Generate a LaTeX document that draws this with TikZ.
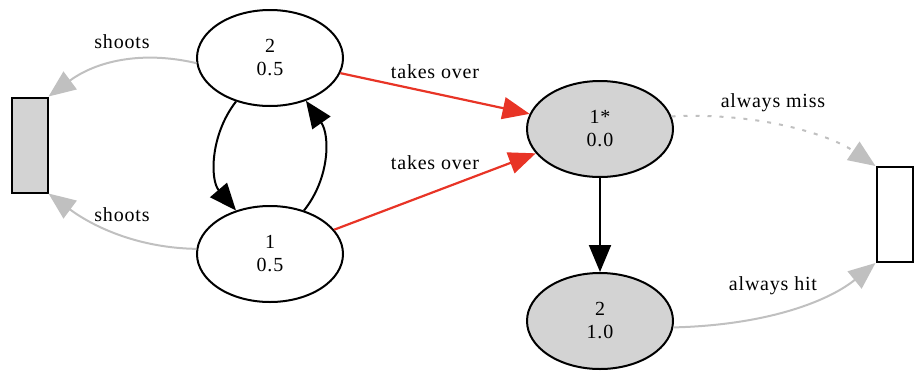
\documentclass[tikz,border=0pt]{standalone}
\usepackage{fontspec}
\setmainfont[LetterSpace=4]{Liberation Serif}
\usetikzlibrary{shapes.geometric,arrows.meta}
\definecolor{edgegray}{RGB}{192,192,192}
\definecolor{fillgray}{RGB}{211,211,211}
\definecolor{edgered}{RGB}{232,52,38}
\tikzset{
  state/.style={ellipse,draw=black,line width=2pt,minimum width=146pt,minimum height=96pt,inner sep=0pt,align=center,font=\fontsize{20}{23}\selectfont},
  gstate/.style={state,fill=fillgray},
  sink/.style={rectangle,draw=black,line width=2pt,minimum width=36pt,minimum height=95pt,inner sep=0pt},
  lbl/.style={font=\fontsize{20}{22}\selectfont,inner sep=0pt},
  blackedge/.style={-{Triangle[length=27pt,width=22pt,fill=black]},line width=2pt,draw=black},
  grayedge/.style={-{Triangle[length=27pt,width=22pt,fill=edgegray]},line width=2pt,draw=edgegray},
  rededge/.style={-{Triangle[length=27pt,width=22pt,fill=edgered]},line width=2.2pt,draw=edgered},
}
\begin{document}
\begin{tikzpicture}[x=1pt,y=-1pt]
\useasboundingbox (0,0) rectangle (922,378);
\node[state] (t) at (270,58) {2\\0.5};
\node[state] (b) at (270,254) {1\\0.5};
\node[gstate] (s) at (600,129) {1*\\0.0};
\node[gstate] (g) at (600,321) {2\\1.0};
\node[sink,fill=fillgray] (L) at (29.5,145) {};
\node[sink,fill=white] (R) at (894.5,214.5) {};
% edges
\draw[grayedge] (t.184) .. controls (140,50) and (95,62) .. (L.north east);
\draw[grayedge] (b.176) .. controls (140,248) and (95,228) .. (L.south east);
\draw[blackedge] (t.232) .. controls (210,135) and (210,180) .. (b.128);
\draw[blackedge] (b.52) .. controls (330,178) and (330,135) .. (t.310);
\draw[rededge] (t) -- (s);
\draw[rededge] (b) -- (s);
\draw[blackedge] (s) -- (g);
\draw[grayedge,dash pattern=on 4pt off 8pt] (s.10) .. controls (760,112) and (830,135) .. (R.north west);
\draw[grayedge] (g.-5) .. controls (770,325) and (830,300) .. (R.south west);
% labels
\node[lbl] (l1) at (122,42) {shoots};
\node[lbl] (l2) at (122,215) {shoots};
\node[lbl] (l3) at (435,72) {takes over};
\node[lbl] (l4) at (435,163) {takes over};
\node[lbl] (l5) at (773,103) {always miss};
\node[lbl] (l6) at (773,286) {always hit};
\end{tikzpicture}
\end{document}
